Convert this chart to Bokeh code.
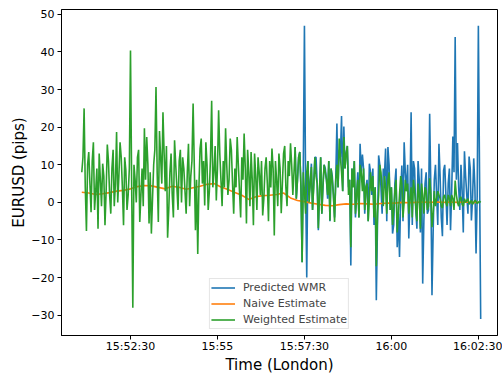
from bokeh.plotting import figure
from bokeh.models import FixedTicker, Range1d, Legend, LegendItem
from bokeh.embed import file_html
from bokeh.resources import INLINE

# ---- data ----
start_time = "15:51:06"
step_s = 4
# samples on the 4-second grid
weighted = [8, 25, -7.6, 13.4, -2.6, 16, 3, -7, 6, 10.3,
            -6.1, 15.4, 2, 9, -1, 18.7, 7, 12, -6.1, 8.5,
            2, 40.4, -28, 6, 12, -5.2, 9, 19.7, 17.4, -5.6,
            -8.3, 10, 30.7, -5.2, 12, 24, 3, -9.4, 8, 2,
            16.5, 4, 11, 0, 9, -3, 15.6, 7, 26.3, -7.4,
            -13.7, 14.3, 5, -0.8, 10, 3, 27, 8, 0.5, 24.5,
            6, 11, 19.7, 2, 17, 5, 9, 17.4, 3, 12,
            18.3, -5.6, 8, 13.4, -6.1, 7, 12, 2, -3.5, 9,
            5, 11, 14.3, -8.8, 6, 13, -2.9, 13, 4, 11,
            15.7, 2, 14.7, 6, 13.4, -15.9, 3, 8, 0, 9.4,
            4, 7, -6.9, 12, 5, 8, 2, -4.8, 6, -5.2,
            10, 17, 8, 17.4, 13, 2, -11.9, 4, -3, 6,
            10, 3, -2, 5, 1, 3, -4, -17, 2, 8,
            -1, 4, 6, -2, -6, 3, -8, 2, 5, 0,
            3, -3, 4, 6, -1, 5, -7, 2, 4, -2,
            6.4, -6.6, 3, 1, 2, -1, 1.5, 0, 2, -1,
            1, 5.8, 0, 1, -0.5, 1, 0.5, -0.5, 0.5, 0,
            0.3, 0, 0]
# samples half-way between the 4-second samples
weighted_mid = [12, 4, 10, 5, 11, -2, 9, 13, -1, 7,
                3, 11, -3, 14, 5, 0, 16, 4, 12, -2,
                9, 5, 10, 0, 14, 2, -1, 6, 10, 8,
                1, 14, 8, 19, 5, 13, 15, -2, 13, -4,
                10, -2, 14, 12, 3, 8, -1, 11, 10, 6,
                4, 17, 11, 16, -2, 12, 4, 15, 9, 13,
                -1, 4, 10, 6, 14, -3, 4, 10, -4, 6,
                9, 14, -1, 6, 13, -2, 8, 11, 1, 12,
                -5, 4, 9, 11, -1, 9, 5, 15, -1, 7,
                10, 8, 1, 12, 4, 8, -3, 11, 5, -2,
                12, 5, 3, -3, 10, 6, 11, 9, 2, 6,
                4, 12, 3, 9, 15, 6, 9, 11, 2, -4,
                8, 9, 4, -5, 8, 7, 4, -3, 10, 3,
                7, -3, 8, 4, -2, 6, -3, 7, -4, 6,
                5, 1, -4, 3, -5, 2, 5, -3, 3, -1,
                2, -3, -1, 3, 1, -1.5, 2, -1, 1, 2,
                -2, 2, -1, 1.5, -1, 0, 1, 0, -0.5, 0.5,
                -0.3, 0.3]

predicted_start_index = 92
predicted = [14.7, 6, 13.4, -15.9, 47, -20, 2, 10.3, 5, 12,
             -7.4, 12, 4, 9, 1, -5, 7, -4, 21, 14,
             23, 20.2, 13, 4, -16.8, 5, -4, 8, 15.6, 12.7,
             -3, 6, 10.3, 2, -6, -26, 12.5, 4, 9, 14.3,
             14.7, -2, -8.3, 5, -11.9, -14.5, 9.8, 16, 3, -9.6,
             24, 11, -2, 11, -8, -21.6, 5, -3, 23.6, -24.7,
             6, 2, 15.6, -4, 8.5, 2, 5, -7.4, 17.5, 44,
             15.8, -2, 3, 13.6, 2, 12.2, -4.8, 11.7, -13.6, 47,
             -31]
predicted_mid = [1, 12, 4, 8, 5, 11, 5, -2, 12, 5,
                 3, -3, 10, 6, 11, 9, 2, 6, 4, 12,
                 3, 9, 15, 6, 9, 11, 2, -4, 8, 9,
                 4, -5, 8, 9, 4, -6, 10, -3, 7, -5,
                 10, 4, -6, 9, -3, 2, -5, 8, 10, 1,
                 -6, 9, -7, 6, 9, -5, 8, -2, 4, -8,
                 10, -6, 7, -9, 10, -6, 9, 3, 8, 6,
                 4, 10, -8, 7, -3, 9, 1, 4, 2, 8]

naive_step_s = 12
naive = [2.7, 2.5, 2.1, 2.3, 2.6, 3.0, 3.2, 3.6, 4.2, 4.5,
         4.4, 4.0, 3.6, 4.3, 4.0, 3.5, 3.9, 4.3, 4.8, 5.0,
         4.1, 3.4, 2.6, 1.9, 0.8, 1.5, 1.8, 1.9, 2.1, 2.5,
         1.2, 0.5, 0.2, -0.2, -0.5, -0.8, -0.9, -0.6, -0.4, -0.5,
         -0.3, -0.4, -0.5, -0.3, -0.2, -0.2, 0.0, -0.1, 0.0, 0.1,
         0.0, 0.1, 0.0, 0.1, 0.0, 0.1, 0.0, 0.0]

series_names = ["Predicted WMR", "Naive Estimate", "Weighted Estimate"]
tick_labels = ["15:52:30", "15:55", "15:57:30", "16:00", "16:02:30"]
y_ticks = [-30, -20, -10, 0, 10, 20, 30, 40, 50]


def to_sec(s):
    parts = [int(v) for v in s.split(":")]
    while len(parts) < 3:
        parts.append(0)
    return parts[0] * 3600 + parts[1] * 60 + parts[2]


def interleave(main, mid, first_index):
    xs, ys = [], []
    for k, v in enumerate(main):
        xs.append(t0 + step_s * (first_index + k))
        ys.append(v)
        if k < len(mid) and k < len(main) - 1:
            xs.append(t0 + step_s * (first_index + k + 0.5))
            ys.append(mid[k])
    return xs, ys


t0 = to_sec(start_time)
x_weighted, y_weighted = interleave(weighted, weighted_mid, 0)
x_pred, y_pred = interleave(predicted, predicted_mid, predicted_start_index)
x_naive = [t0 + naive_step_s * j for j in range(len(naive))]
tick_secs = [to_sec(t) for t in tick_labels]

FONT = "DejaVu Sans"
p = figure(width=502, height=376, output_backend="svg", toolbar_location=None,
           x_range=Range1d(to_sec("15:50:31"), to_sec("16:03:03")),
           y_range=Range1d(-35.4, 51.3),
           min_border_left=61, min_border_right=5, min_border_top=9, min_border_bottom=41)
p.background_fill_color = "white"
p.border_fill_color = "white"
p.outline_line_color = "black"
p.outline_line_width = 1
p.outline_line_alpha = 1
p.xgrid.visible = False
p.ygrid.visible = False

colors = ["#1f77b4", "#ff7f0e", "#2ca02c"]
lw = 1.6
r_pred = p.line(x_pred, y_pred, line_color=colors[0], line_width=lw)
r_naive = p.line(x_naive, naive, line_color=colors[1], line_width=lw)
r_w = p.line(x_weighted, y_weighted, line_color=colors[2], line_width=lw)

xa = p.xaxis[0]
xa.ticker = FixedTicker(ticks=tick_secs)
xa.major_label_overrides = {s: lab for s, lab in zip(tick_secs, tick_labels)}
ya = p.yaxis[0]
ya.ticker = FixedTicker(ticks=y_ticks)
ya.major_label_overrides = {v: (str(v).replace("-", "\u2212")) for v in y_ticks}

for ax in (xa, ya):
    ax.minor_tick_line_color = None
    ax.major_tick_in = 0
    ax.major_tick_out = 4
    ax.major_tick_line_color = "black"
    ax.axis_line_color = "black"
    ax.major_label_text_font = FONT
    ax.major_label_text_font_size = "11px"
    ax.major_label_text_color = "black"
    ax.axis_label_text_font = FONT
    ax.axis_label_text_font_size = "15px"
    ax.axis_label_text_font_style = "normal"
    ax.axis_label_text_color = "black"

xa.major_label_standoff = 0
xa.axis_label = "Time (London)"
xa.axis_label_standoff = 0
ya.major_label_standoff = 3
ya.axis_label = "EURUSD (pips)"
ya.axis_label_standoff = 0

legend = Legend(items=[LegendItem(label=series_names[0], renderers=[r_pred]),
                       LegendItem(label=series_names[1], renderers=[r_naive]),
                       LegendItem(label=series_names[2], renderers=[r_w])],
                location="bottom_center")
legend.label_text_font = FONT
legend.label_text_font_size = "11px"
legend.label_height = 15
legend.glyph_height = 15
legend.glyph_width = 24
legend.spacing = 1
legend.padding = 1
legend.margin = 6
legend.label_standoff = 8
legend.border_line_color = "#cccccc"
legend.border_line_width = 1
legend.background_fill_alpha = 0.8
p.add_layout(legend)

open("out.html", "w").write(file_html(p, INLINE))
